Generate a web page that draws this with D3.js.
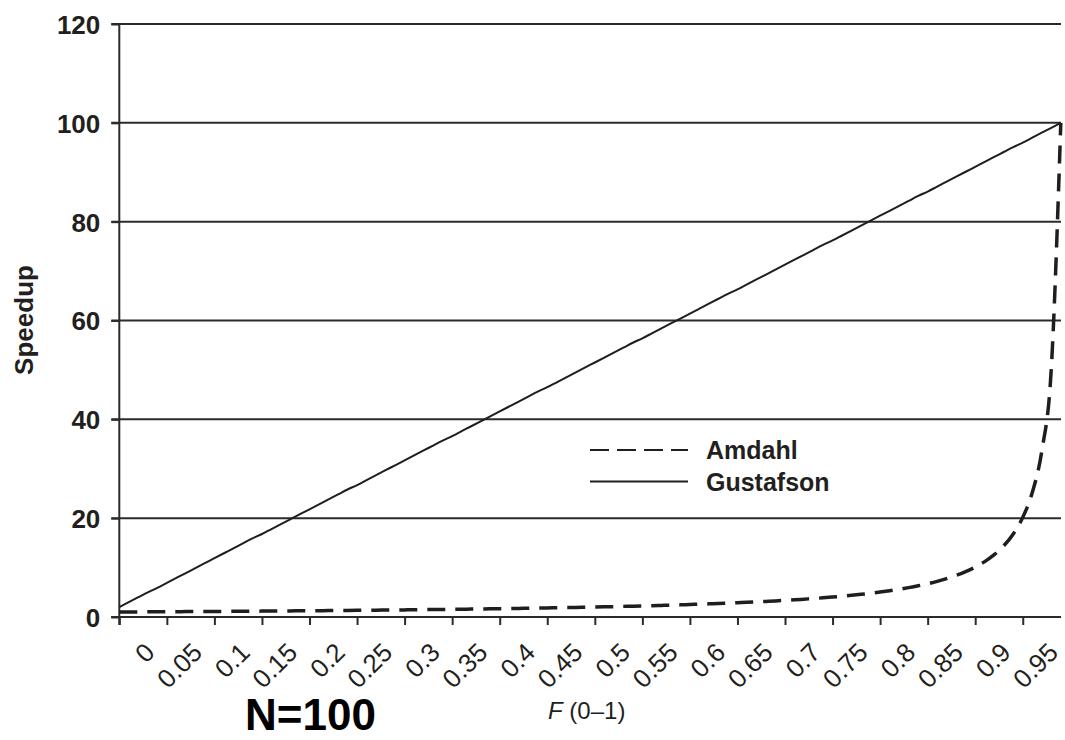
<!DOCTYPE html>
<html>
<head>
<meta charset="utf-8">
<script src="https://cdn.jsdelivr.net/npm/d3@7"></script>
<style>
  body { margin: 0; background: #fff; }
  svg { display: block; font-family: "Liberation Sans", Arial, sans-serif; }
  .grid line, .axis line, .axis path { stroke: #2b2b2b; stroke-width: 2; }
  .y-axis text { font-size: 26px; font-weight: bold; fill: #231f20; }
  .x-label { font-size: 26px; fill: #231f20; }
  .legend text { font-size: 25px; font-weight: bold; fill: #231f20; }
</style>
</head>
<body>
<svg id="chart"></svg>
<script>
// F values (categories) 0.01 .. 1.00
const fValues = [0.01,0.02,0.03,0.04,0.05,0.06,0.07,0.08,0.09,0.10,
  0.11,0.12,0.13,0.14,0.15,0.16,0.17,0.18,0.19,0.20,
  0.21,0.22,0.23,0.24,0.25,0.26,0.27,0.28,0.29,0.30,
  0.31,0.32,0.33,0.34,0.35,0.36,0.37,0.38,0.39,0.40,
  0.41,0.42,0.43,0.44,0.45,0.46,0.47,0.48,0.49,0.50,
  0.51,0.52,0.53,0.54,0.55,0.56,0.57,0.58,0.59,0.60,
  0.61,0.62,0.63,0.64,0.65,0.66,0.67,0.68,0.69,0.70,
  0.71,0.72,0.73,0.74,0.75,0.76,0.77,0.78,0.79,0.80,
  0.81,0.82,0.83,0.84,0.85,0.86,0.87,0.88,0.89,0.90,
  0.91,0.92,0.93,0.94,0.95,0.96,0.97,0.98,0.99,1.00];

const amdahl = [1.01,1.02,1.03,1.04,1.05,1.06,1.07,1.09,1.10,1.11,
  1.12,1.14,1.15,1.16,1.17,1.19,1.20,1.22,1.23,1.25,
  1.26,1.28,1.30,1.31,1.33,1.35,1.37,1.38,1.40,1.42,
  1.44,1.46,1.49,1.51,1.53,1.55,1.58,1.60,1.63,1.66,
  1.68,1.71,1.74,1.77,1.80,1.84,1.87,1.91,1.94,1.98,
  2.02,2.06,2.10,2.15,2.20,2.24,2.30,2.35,2.40,2.46,
  2.53,2.59,2.66,2.73,2.81,2.89,2.97,3.06,3.16,3.26,
  3.37,3.48,3.61,3.74,3.88,4.04,4.21,4.39,4.59,4.81,
  5.05,5.31,5.61,5.94,6.31,6.73,7.21,7.76,8.41,9.17,
  10.09,11.21,12.61,14.41,16.81,20.16,25.19,33.56,50.25,100];

const gustafson = [2.0,3.0,4.0,5.0,5.9,6.9,7.9,8.9,9.9,10.9,
  11.9,12.9,13.9,14.9,15.9,16.8,17.8,18.8,19.8,20.8,
  21.8,22.8,23.8,24.8,25.8,26.7,27.7,28.7,29.7,30.7,
  31.7,32.7,33.7,34.7,35.7,36.6,37.6,38.6,39.6,40.6,
  41.6,42.6,43.6,44.6,45.6,46.5,47.5,48.5,49.5,50.5,
  51.5,52.5,53.5,54.5,55.5,56.4,57.4,58.4,59.4,60.4,
  61.4,62.4,63.4,64.4,65.4,66.3,67.3,68.3,69.3,70.3,
  71.3,72.3,73.3,74.3,75.3,76.2,77.2,78.2,79.2,80.2,
  81.2,82.2,83.2,84.2,85.2,86.1,87.1,88.1,89.1,90.1,
  91.1,92.1,93.1,94.1,95.1,96.0,97.0,98.0,99.0,100];

const xTickLabels = ['0','0.05','0.1','0.15','0.2','0.25','0.3','0.35','0.4','0.45',
  '0.5','0.55','0.6','0.65','0.7','0.75','0.8','0.85','0.9','0.95'];
const yTicks = [0, 20, 40, 60, 80, 100, 120];
const seriesNames = ['Amdahl', 'Gustafson'];

class SpeedupChart {

  constructor(_config) {
    this.config = {
      parentElement: _config.parentElement,
      containerWidth: _config.containerWidth || 1065,
      containerHeight: _config.containerHeight || 740,
      margin: _config.margin || { top: 24, right: 4, bottom: 123, left: 119.3 }
    };
    this.initVis();
  }

  initVis() {
    let vis = this;

    vis.width = vis.config.containerWidth - vis.config.margin.left - vis.config.margin.right;
    vis.height = vis.config.containerHeight - vis.config.margin.top - vis.config.margin.bottom;

    // points sit on the tick marks, last one at ~1061px
    vis.xScale = d3.scalePoint()
      .domain(fValues)
      .range([0, 941.5]);

    vis.yScale = d3.scaleLinear()
      .domain([0, 120])
      .range([vis.height, 0]);

    vis.svg = d3.select(vis.config.parentElement)
      .attr('width', vis.config.containerWidth)
      .attr('height', vis.config.containerHeight);

    vis.chart = vis.svg.append('g')
      .attr('transform', `translate(${vis.config.margin.left},${vis.config.margin.top})`);

    vis.gridG = vis.chart.append('g').attr('class', 'grid');

    vis.xAxisG = vis.chart.append('g')
      .attr('class', 'axis x-axis')
      .attr('transform', `translate(0,${vis.height})`);

    vis.yAxisG = vis.chart.append('g')
      .attr('class', 'axis y-axis');

    vis.lines = vis.chart.append('g').attr('class', 'lines');
  }

  updateVis() {
    let vis = this;

    vis.line = d3.line()
      .curve(d3.curveMonotoneX)
      .x((d, i) => vis.xScale(fValues[i]))
      .y(d => vis.yScale(d));

    vis.renderVis();
  }

  renderVis() {
    let vis = this;

    // horizontal gridlines (0 line doubles as x axis)
    vis.gridG.selectAll('line')
      .data(yTicks)
      .join('line')
      .attr('x1', -8)
      .attr('x2', vis.width)
      .attr('y1', d => vis.yScale(d))
      .attr('y2', d => vis.yScale(d));

    vis.yAxis = d3.axisLeft(vis.yScale)
      .tickValues(yTicks)
      .tickSize(8)
      .tickPadding(11)
      .tickSizeOuter(0);
    vis.yAxisG.call(vis.yAxis);
    vis.yAxisG.select('.domain')
      .attr('d', `M0,0V${vis.height + 8}`);
    vis.yAxisG.selectAll('text').attr('dy', '0.36em');

    // ticks every 5th category, labels placed between ticks
    const tickCats = fValues.filter((d, i) => i % 5 === 0);
    vis.xAxis = d3.axisBottom(vis.xScale)
      .tickValues(tickCats)
      .tickSize(8)
      .tickSizeOuter(0)
      .tickFormat('');
    vis.xAxisG.call(vis.xAxis);
    vis.xAxisG.select('.domain').attr('d', `M-8,0H${vis.width}`);

    vis.xAxisG.selectAll('.x-label')
      .data(xTickLabels)
      .join('text')
      .attr('class', 'x-label')
      .attr('text-anchor', 'end')
      .attr('transform', (d, i) => `translate(${vis.xScale(tickCats[i]) + 37},37) rotate(-45)`)
      .text(d => d);

    vis.lines.selectAll('.line')
      .data([amdahl, gustafson])
      .join('path')
      .attr('class', 'line')
      .attr('fill', 'none')
      .attr('stroke', '#1e1e1e')
      .attr('stroke-width', (d, i) => i === 0 ? 3.5 : 2)
      .attr('stroke-dasharray', (d, i) => i === 0 ? '18,10' : null)
      .attr('d', d => vis.line(d));

    // legend
    const legend = vis.svg.append('g')
      .attr('class', 'legend')
      .attr('transform', 'translate(590,450)');
    const rows = legend.selectAll('g')
      .data(seriesNames)
      .join('g')
      .attr('transform', (d, i) => `translate(0,${i * 31.5})`);
    rows.append('line')
      .attr('x1', 0).attr('x2', 98)
      .attr('stroke', '#1e1e1e')
      .attr('stroke-width', 2)
      .attr('stroke-dasharray', (d, i) => i === 0 ? '19,8' : null);
    rows.append('text')
      .attr('x', 116)
      .attr('dy', '0.36em')
      .text(d => d);

    // axis titles
    vis.svg.append('text')
      .attr('transform', 'translate(33,320) rotate(-90)')
      .attr('text-anchor', 'middle')
      .style('font-size', '26px')
      .style('font-weight', 'bold')
      .style('fill', '#231f20')
      .text('Speedup');

    const xTitle = vis.svg.append('text')
      .attr('x', 548)
      .attr('y', 719)
      .style('font-size', '24px')
      .style('fill', '#231f20');
    xTitle.append('tspan').style('font-style', 'italic').text('F');
    xTitle.append('tspan').text(' (0–1)');

    vis.svg.append('text')
      .attr('x', 245)
      .attr('y', 730)
      .style('font-size', '44px')
      .style('font-weight', 'bold')
      .style('fill', '#000')
      .text('N=100');
  }
}

const chart = new SpeedupChart({ parentElement: '#chart' });
chart.updateVis();
</script>
</body>
</html>
